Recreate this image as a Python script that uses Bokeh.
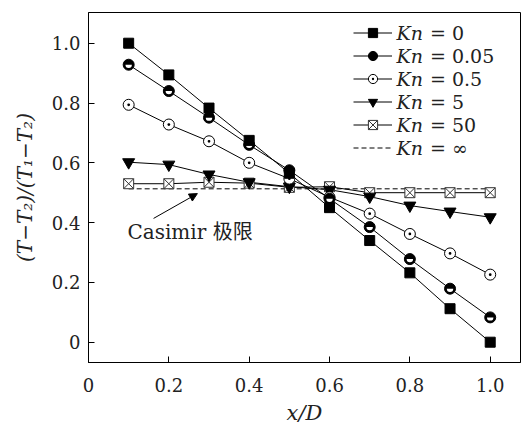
import numpy as np
from bokeh.plotting import figure
from bokeh.models import (Range1d, FixedTicker, Legend, LegendItem, Label, Arrow,
                          NormalHead, ColumnDataSource, Title)
from bokeh.embed import file_html
from bokeh.resources import INLINE

# ---- data ----
x_pos = [0.1, 0.2, 0.3, 0.4, 0.5, 0.6, 0.7, 0.8, 0.9, 1.0]
kn_0 = [1.0, 0.894, 0.783, 0.675, 0.565, 0.45, 0.34, 0.232, 0.112, 0.0]
kn_005 = [0.928, 0.84, 0.751, 0.66, 0.575, 0.48, 0.385, 0.278, 0.179, 0.083]
kn_05 = [0.794, 0.728, 0.672, 0.60, 0.547, 0.485, 0.43, 0.362, 0.297, 0.226]
kn_5 = [0.602, 0.594, 0.561, 0.535, 0.52, 0.51, 0.487, 0.457, 0.437, 0.418]
kn_50 = [0.53, 0.53, 0.535, 0.532, 0.518, 0.52, 0.50, 0.50, 0.50, 0.50]
kn_inf = [0.513, 0.513, 0.513, 0.513, 0.513, 0.513, 0.513, 0.513, 0.513, 0.513]

legend_values = ["= 0", "= 0.05", "= 0.5", "= 5", "= 50", "= ∞"]
x_ticks = [0, 0.2, 0.4, 0.6, 0.8, 1.0]
y_ticks = [0, 0.2, 0.4, 0.6, 0.8, 1.0]
x_title = "x/D"
y_title = "(T−T₂)/(T₁−T₂)"

SERIF = "DejaVu Serif"

p = figure(width=522, height=430, output_backend="svg", toolbar_location=None,
           x_range=Range1d(0, 1.0754), y_range=Range1d(-0.0679, 1.1027),
           min_border_left=88, min_border_right=2, min_border_top=12,
           min_border_bottom=68)
p.background_fill_color = "white"
p.border_fill_color = "white"
p.outline_line_color = "black"
p.outline_line_width = 1
p.xgrid.visible = False
p.ygrid.visible = False

for ax in (p.xaxis[0], p.yaxis[0]):
    ax.axis_line_color = "black"
    ax.major_tick_in = 6
    ax.major_tick_out = 0
    ax.minor_tick_in = 0
    ax.minor_tick_out = 0
    ax.major_label_text_font = SERIF
    ax.major_label_text_font_size = "18px"
    ax.major_label_text_color = "#222222"
    ax.axis_label_text_font = SERIF
    ax.axis_label_text_font_size = "20px"
    ax.axis_label_text_font_style = "italic"
    ax.axis_label_text_color = "#222222"

p.xaxis.ticker = FixedTicker(ticks=x_ticks)
p.yaxis.ticker = FixedTicker(ticks=y_ticks)
p.xaxis.major_label_overrides = {0: "0", 1.0: "1.0"}
p.yaxis.major_label_overrides = {0: "0", 1.0: "1.0"}
p.xaxis.major_label_standoff = 15
p.yaxis.major_label_standoff = 8
p.yaxis.axis_label = y_title
p.yaxis.axis_label_standoff = 12

# x-axis title as a title panel below the axis
p.add_layout(Title(text=x_title, align="center", offset=-6, standoff=9,
                   text_font=SERIF, text_font_style="italic",
                   text_font_size="21px", text_color="#222222"), "below")

src = ColumnDataSource(dict(x=x_pos, k0=kn_0, k005=kn_005, k05=kn_05,
                            k5=kn_5, k50=kn_50, kinf=kn_inf))

lw = 1
l_inf = p.line("x", "kinf", source=src, line_color="black", line_width=lw, line_dash="5 3")

l0 = p.line("x", "k0", source=src, line_color="black", line_width=lw)
l005 = p.line("x", "k005", source=src, line_color="black", line_width=lw)
l05 = p.line("x", "k05", source=src, line_color="black", line_width=lw)
l5 = p.line("x", "k5", source=src, line_color="black", line_width=lw)
l50 = p.line("x", "k50", source=src, line_color="black", line_width=lw)

m50 = p.scatter("x", "k50", source=src, marker="square_x", size=10,
                fill_color="white", line_color="#333333", line_width=1)
m5 = p.scatter("x", "k5", source=src, marker="inverted_triangle", size=12,
               fill_color="black", line_color="black")
m05 = p.scatter("x", "k05", source=src, marker="circle_dot", size=11,
                fill_color="white", line_color="black", line_width=1)
m005 = p.scatter("x", "k005", source=src, marker="circle", size=11,
                 fill_color="black", line_color="black")
p.wedge("x", "k005", source=src, radius=3.2, radius_units="screen",
        start_angle=np.pi, end_angle=2 * np.pi, fill_color="white", line_color=None)
m0 = p.scatter("x", "k0", source=src, marker="square", size=10,
               fill_color="black", line_color="black")

items = [
    LegendItem(label=legend_values[0], renderers=[l0, m0]),
    LegendItem(label=legend_values[1], renderers=[l005, m005]),
    LegendItem(label=legend_values[2], renderers=[l05, m05]),
    LegendItem(label=legend_values[3], renderers=[l5, m5]),
    LegendItem(label=legend_values[4], renderers=[l50, m50]),
    LegendItem(label=legend_values[5], renderers=[l_inf]),
]
legend = Legend(items=items, location=(265, 203), padding=0, margin=0,
                border_line_alpha=0, background_fill_alpha=0,
                glyph_width=39, glyph_height=23, label_height=23, spacing=0,
                label_standoff=38, label_text_font=SERIF,
                label_text_font_size="19px", label_text_color="#222222")
p.add_layout(legend)

# italic "Kn" in front of each legend label
row_px = [32.5, 55.5, 78.5, 101.5, 124.5, 147.5]
for py in row_px:
    p.add_layout(Label(x=(396 - 88) / 401.7, y=(341.7 - py) / 299.0, text="Kn",
                       text_font=SERIF, text_font_style="italic",
                       text_font_size="19px", text_baseline="middle",
                       text_color="#222222"))

# annotation
p.add_layout(Label(x=0.097, y=0.370, text="Casimir 极限",
                   text_font="DejaVu Serif, Noto Sans CJK SC",
                   text_font_size="20px", text_baseline="middle",
                   text_color="#222222"))
p.add_layout(Arrow(x_start=0.162, y_start=0.414, x_end=0.271, y_end=0.497,
                   line_color="black", line_width=1,
                   end=NormalHead(size=8, fill_color="black", line_color="black")))

open("out.html", "w").write(file_html(p, INLINE))
